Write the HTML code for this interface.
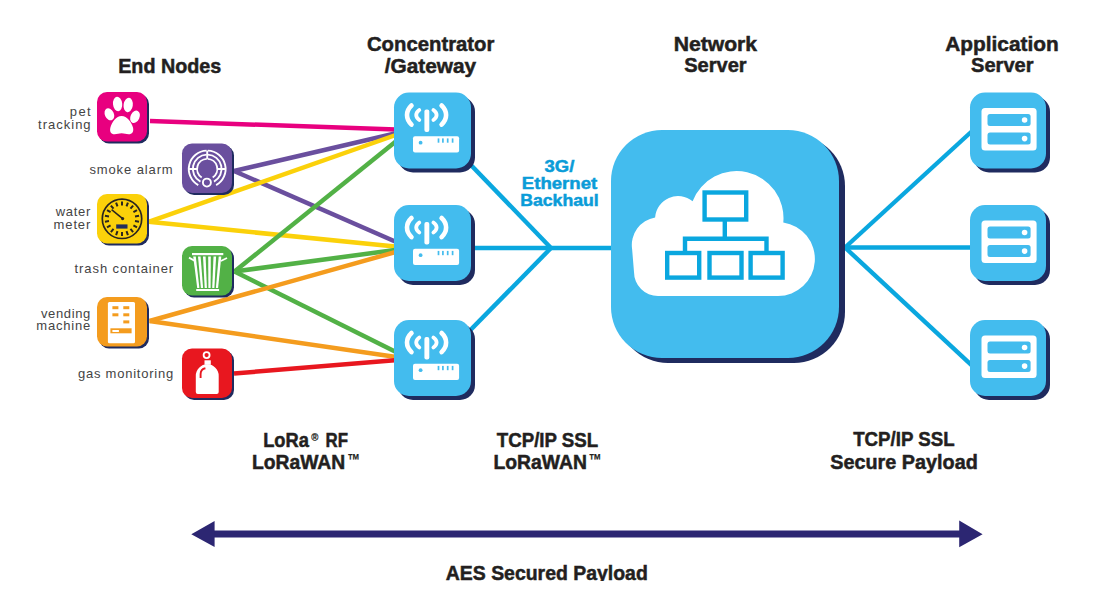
<!DOCTYPE html>
<html><head><meta charset="utf-8"><style>
html,body{margin:0;padding:0;background:#fff;width:1094px;height:599px;overflow:hidden}
svg{display:block}
</style></head><body>
<svg width="1094" height="599" viewBox="0 0 1094 599">
<rect width="1094" height="599" fill="#fff"/>
<line x1="150" y1="121" x2="410" y2="130" stroke="#e8007f" stroke-width="4.5"/>
<line x1="234" y1="171" x2="410" y2="130" stroke="#6a4f9e" stroke-width="4.5"/>
<line x1="234" y1="171" x2="410" y2="248" stroke="#6a4f9e" stroke-width="4.5"/>
<line x1="148.5" y1="221.8" x2="410" y2="130" stroke="#fbd10a" stroke-width="4.5"/>
<line x1="148.5" y1="221.8" x2="410" y2="248" stroke="#fbd10a" stroke-width="4.5"/>
<line x1="234.5" y1="271.5" x2="410" y2="130" stroke="#52b146" stroke-width="4.5"/>
<line x1="234.5" y1="271.5" x2="410" y2="248" stroke="#52b146" stroke-width="4.5"/>
<line x1="234.5" y1="271.5" x2="410" y2="359" stroke="#52b146" stroke-width="4.5"/>
<line x1="149.5" y1="321" x2="410" y2="248" stroke="#f49c1e" stroke-width="4.5"/>
<line x1="149.5" y1="321" x2="410" y2="359" stroke="#f49c1e" stroke-width="4.5"/>
<line x1="234" y1="373.5" x2="410" y2="359" stroke="#e8171f" stroke-width="4.5"/>
<line x1="440" y1="133" x2="551" y2="248" stroke="#0aa7df" stroke-width="4.4"/>
<line x1="440" y1="361" x2="551" y2="248" stroke="#0aa7df" stroke-width="4.4"/>
<line x1="440" y1="248" x2="700" y2="248" stroke="#0aa7df" stroke-width="4.4"/>
<line x1="800" y1="247.5" x2="1000" y2="247.5" stroke="#0aa7df" stroke-width="4.4"/>
<line x1="845" y1="247.5" x2="1000" y2="105.5" stroke="#0aa7df" stroke-width="4.4"/>
<line x1="845" y1="247.5" x2="1000" y2="391.6" stroke="#0aa7df" stroke-width="4.4"/>
<rect x="99" y="94" width="50" height="49.5" rx="10" fill="#1f2b5f"/>
<rect x="97" y="92" width="50" height="49.5" rx="10" fill="#e8007f"/>
<rect x="184" y="145.5" width="50" height="49.5" rx="10" fill="#1f2b5f"/>
<rect x="182" y="143.5" width="50" height="49.5" rx="10" fill="#6a4f9e"/>
<rect x="99" y="196" width="50" height="49.5" rx="10" fill="#1f2b5f"/>
<rect x="97" y="194" width="50" height="49.5" rx="10" fill="#fbd10a"/>
<rect x="184" y="248" width="50" height="49.5" rx="10" fill="#1f2b5f"/>
<rect x="182" y="246" width="50" height="49.5" rx="10" fill="#52b146"/>
<rect x="99" y="299" width="50" height="49.5" rx="10" fill="#1f2b5f"/>
<rect x="97" y="297" width="50" height="49.5" rx="10" fill="#f49c1e"/>
<rect x="184" y="350.5" width="50" height="49.5" rx="10" fill="#1f2b5f"/>
<rect x="182" y="348.5" width="50" height="49.5" rx="10" fill="#e8171f"/>
<g fill="#fff">
<ellipse cx="117.6" cy="104" rx="4.6" ry="7.2" transform="rotate(-6 117.6 104)"/>
<ellipse cx="128.2" cy="105" rx="4.6" ry="7.2" transform="rotate(8 128.2 105)"/>
<ellipse cx="109.4" cy="114.3" rx="4.5" ry="6.3" transform="rotate(-25 109.4 114.3)"/>
<ellipse cx="135" cy="116.8" rx="4.5" ry="6.5" transform="rotate(25 135 116.8)"/>
<path d="M121.6 116 C127 116 131.5 122 133 127.5 C134 131.5 132.2 134.3 128.6 134.3 C126 134.3 124.4 133.3 121.6 133.3 C118.8 133.3 117.2 134.3 114.6 134.3 C111 134.3 109.4 131.5 110.4 127.5 C111.9 122 116.2 116 121.6 116 Z"/>
</g>
<g fill="none" stroke="#fff" stroke-width="1.9">
<path d="M198.28 185.09 A18.4 18.4 0 0 1 206.56 150.61"/>
<path d="M207.84 150.61 A18.4 18.4 0 0 1 216.12 185.09"/>
<path d="M200.44 181.71 A14.4 14.4 0 0 1 206.70 154.61"/>
<path d="M207.70 154.61 A14.4 14.4 0 0 1 213.96 181.71"/>
<path d="M201.70 177.47 A10.1 10.1 0 0 1 206.85 158.91"/>
<path d="M207.55 158.91 A10.1 10.1 0 0 1 212.70 177.47"/>
<path d="M207.2 150.6 V158.9"/>
<path d="M188.79999999999998 169 H197.1 M217.29999999999998 169 H225.6"/>
<circle cx="206.9" cy="182.6" r="4"/>
</g>
<circle cx="122" cy="218.8" r="19.7" fill="none" stroke="#29251f" stroke-width="1.7"/>
<path d="M122.00 205.60 L122.00 201.50 M126.51 206.40 L127.92 202.54 M130.48 208.69 L133.12 205.55 M133.43 212.20 L136.98 210.15 M135.00 216.51 L139.04 215.80 M135.00 221.09 L139.04 221.80 M133.43 225.40 L136.98 227.45 M130.48 228.91 L133.12 232.05 M126.51 231.20 L127.92 235.06 M122.00 232.00 L122.00 236.10 M117.49 231.20 L116.08 235.06 M113.52 228.91 L110.88 232.05 M110.57 225.40 L107.02 227.45 M109.00 221.09 L104.96 221.80 M109.00 216.51 L104.96 215.80 M110.57 212.20 L107.02 210.15 M113.52 208.69 L110.88 205.55 M117.49 206.40 L116.08 202.54" stroke="#29251f" stroke-width="2"/>
<path d="M111.6 209.6 L122.6 218.6" stroke="#29251f" stroke-width="1.5"/><circle cx="122.6" cy="218.6" r="1.6" fill="#29251f"/>
<rect x="116.2" y="224.4" width="11.3" height="4.2" fill="#232f5c"/>
<g fill="#fff" stroke="none">
<rect x="192" y="253" width="31.3" height="2.2"/>
<rect x="196.2" y="289" width="22.9" height="2"/>
<path d="M193.2 256.4 L195.8 256.4 L199.4 288 L197.20000000000002 288 Z"/>
<path d="M198.0 256.4 L200.60000000000002 256.4 L203.1 288 L200.9 288 Z"/>
<path d="M203.0 256.4 L205.60000000000002 256.4 L206.9 288 L204.70000000000002 288 Z"/>
<path d="M208.2 256.4 L210.8 256.4 L210.6 288 L208.4 288 Z"/>
<path d="M213.5 256.4 L216.10000000000002 256.4 L214.4 288 L212.20000000000002 288 Z"/>
<path d="M218.7 256.4 L221.3 256.4 L218.1 288 L215.9 288 Z"/>
</g>
<path d="M189 257.6 L194.5 260.8 M227 258 L220.8 261" stroke="#fff" stroke-width="1.8"/>
<rect x="107.9" y="302" width="27.1" height="41.3" rx="1.5" fill="#fff"/>
<rect x="112.4" y="306.2" width="6" height="3" fill="#f49c1e"/>
<rect x="123.3" y="306.2" width="6" height="3" fill="#f49c1e"/>
<rect x="112.4" y="313.3" width="6" height="3" fill="#f49c1e"/>
<rect x="123.3" y="313.3" width="6" height="3" fill="#f49c1e"/>
<rect x="123.3" y="320.4" width="6" height="3" fill="#f49c1e"/>
<rect x="110.4" y="328.3" width="21.2" height="5" fill="#f49c1e"/>
<rect x="112.4" y="330" width="6.5" height="2" fill="#fff"/>
<path d="M195.8 393.9 V375.8 A11.45 11.45 0 0 1 218.7 375.8 V391.9 Q218.7 393.9 216.7 393.9 H197.8 Q195.8 393.9 195.8 391.9 Z" fill="#fff"/>
<path d="M200.6 378 V374 A6 6 0 0 1 205.4 368.2" fill="none" stroke="#e8171f" stroke-width="1.9"/>
<rect x="204.5" y="360.3" width="6.3" height="4.5" fill="#fff"/>
<circle cx="206.6" cy="355.1" r="3" fill="none" stroke="#fff" stroke-width="1.8"/>
<rect x="398" y="96.5" width="77" height="76" rx="15" fill="#1f2b5f"/>
<rect x="394" y="92.5" width="77" height="76" rx="15" fill="#43bcee"/>
<g transform="translate(0 0.0)">
<g fill="none" stroke="#fff" stroke-linecap="round">
<path d="M411.5 105.5 C405.50 111.23 405.50 118.87 411.5 124.6 M441.6 105.5 C447.60 111.23 447.60 118.87 441.6 124.6" stroke-width="4.6"/>
<path d="M419.3 110 C415.17 113.00 415.17 117.00 419.3 120 M433.4 110 C437.67 113.00 437.67 117.00 433.4 120" stroke-width="3.8"/>
</g>
<rect x="424.4" y="109.6" width="4.9" height="22.3" rx="2" fill="#fff"/>
<rect x="413" y="136.2" width="46.1" height="16.3" rx="2" fill="#fff"/>
<circle cx="420.6" cy="142.7" r="1.9" fill="#43bcee"/>
<rect x="437.65" y="138.4" width="1.7" height="4.3" fill="#43bcee"/>
<rect x="442.04999999999995" y="138.4" width="1.7" height="4.3" fill="#43bcee"/>
<rect x="446.84999999999997" y="138.4" width="1.7" height="4.3" fill="#43bcee"/>
<rect x="451.75" y="138.4" width="1.7" height="4.3" fill="#43bcee"/>
</g>
<rect x="398" y="209" width="77" height="76" rx="15" fill="#1f2b5f"/>
<rect x="394" y="205" width="77" height="76" rx="15" fill="#43bcee"/>
<g transform="translate(0 112.5)">
<g fill="none" stroke="#fff" stroke-linecap="round">
<path d="M411.5 105.5 C405.50 111.23 405.50 118.87 411.5 124.6 M441.6 105.5 C447.60 111.23 447.60 118.87 441.6 124.6" stroke-width="4.6"/>
<path d="M419.3 110 C415.17 113.00 415.17 117.00 419.3 120 M433.4 110 C437.67 113.00 437.67 117.00 433.4 120" stroke-width="3.8"/>
</g>
<rect x="424.4" y="109.6" width="4.9" height="22.3" rx="2" fill="#fff"/>
<rect x="413" y="136.2" width="46.1" height="16.3" rx="2" fill="#fff"/>
<circle cx="420.6" cy="142.7" r="1.9" fill="#43bcee"/>
<rect x="437.65" y="138.4" width="1.7" height="4.3" fill="#43bcee"/>
<rect x="442.04999999999995" y="138.4" width="1.7" height="4.3" fill="#43bcee"/>
<rect x="446.84999999999997" y="138.4" width="1.7" height="4.3" fill="#43bcee"/>
<rect x="451.75" y="138.4" width="1.7" height="4.3" fill="#43bcee"/>
</g>
<rect x="398" y="324" width="77" height="76" rx="15" fill="#1f2b5f"/>
<rect x="394" y="320" width="77" height="76" rx="15" fill="#43bcee"/>
<g transform="translate(0 227.5)">
<g fill="none" stroke="#fff" stroke-linecap="round">
<path d="M411.5 105.5 C405.50 111.23 405.50 118.87 411.5 124.6 M441.6 105.5 C447.60 111.23 447.60 118.87 441.6 124.6" stroke-width="4.6"/>
<path d="M419.3 110 C415.17 113.00 415.17 117.00 419.3 120 M433.4 110 C437.67 113.00 437.67 117.00 433.4 120" stroke-width="3.8"/>
</g>
<rect x="424.4" y="109.6" width="4.9" height="22.3" rx="2" fill="#fff"/>
<rect x="413" y="136.2" width="46.1" height="16.3" rx="2" fill="#fff"/>
<circle cx="420.6" cy="142.7" r="1.9" fill="#43bcee"/>
<rect x="437.65" y="138.4" width="1.7" height="4.3" fill="#43bcee"/>
<rect x="442.04999999999995" y="138.4" width="1.7" height="4.3" fill="#43bcee"/>
<rect x="446.84999999999997" y="138.4" width="1.7" height="4.3" fill="#43bcee"/>
<rect x="451.75" y="138.4" width="1.7" height="4.3" fill="#43bcee"/>
</g>
<rect x="974" y="96.5" width="76" height="76" rx="15" fill="#1f2b5f"/>
<rect x="970" y="92.5" width="76" height="76" rx="15" fill="#43bcee"/>
<g transform="translate(0 0.0)">
<rect x="981.5" y="108" width="55.1" height="42.6" rx="3.5" fill="#fff"/>
<rect x="987.5" y="114" width="43.1" height="12" rx="2.5" fill="#43bcee"/>
<rect x="987.5" y="132.5" width="43.1" height="12.1" rx="2.5" fill="#43bcee"/>
<circle cx="1024.6" cy="120" r="2.8" fill="#fff"/><circle cx="1024.6" cy="138.6" r="2.8" fill="#fff"/>
</g>
<rect x="974" y="209" width="76" height="76" rx="15" fill="#1f2b5f"/>
<rect x="970" y="205" width="76" height="76" rx="15" fill="#43bcee"/>
<g transform="translate(0 112.5)">
<rect x="981.5" y="108" width="55.1" height="42.6" rx="3.5" fill="#fff"/>
<rect x="987.5" y="114" width="43.1" height="12" rx="2.5" fill="#43bcee"/>
<rect x="987.5" y="132.5" width="43.1" height="12.1" rx="2.5" fill="#43bcee"/>
<circle cx="1024.6" cy="120" r="2.8" fill="#fff"/><circle cx="1024.6" cy="138.6" r="2.8" fill="#fff"/>
</g>
<rect x="974" y="324" width="76" height="76" rx="15" fill="#1f2b5f"/>
<rect x="970" y="320" width="76" height="76" rx="15" fill="#43bcee"/>
<g transform="translate(0 227.5)">
<rect x="981.5" y="108" width="55.1" height="42.6" rx="3.5" fill="#fff"/>
<rect x="987.5" y="114" width="43.1" height="12" rx="2.5" fill="#43bcee"/>
<rect x="987.5" y="132.5" width="43.1" height="12.1" rx="2.5" fill="#43bcee"/>
<circle cx="1024.6" cy="120" r="2.8" fill="#fff"/><circle cx="1024.6" cy="138.6" r="2.8" fill="#fff"/>
</g>
<rect x="617" y="135" width="228" height="228" rx="51" fill="#1f2b5f"/>
<rect x="611" y="130" width="228" height="228" rx="51" fill="#43bcee"/>
<path fill="#fff" d="M658 296 A24 24 0 0 1 634 272 L632.1 249 A28 28 0 0 1 655.1 217.4 A23 23 0 0 1 692.6 201.25 A47 47 0 0 1 783.3 222.4 A37 37 0 0 1 778 296 Z"/>
<g fill="none" stroke="#0aa7df" stroke-width="4.4">
<rect x="704.6" y="192.5" width="41.6" height="27"/>
<path d="M724.8 221 V238.7 M685 253 V238.7 H766.5 V253"/>
<rect x="667.2" y="253" width="32" height="24.6"/>
<rect x="709.5" y="253" width="32" height="24.6"/>
<rect x="750.6" y="253" width="32" height="24.6"/>
</g>
<rect x="212" y="530.5" width="750" height="7" fill="#2c2672"/>
<path d="M191.3 534.2 L214.6 520.9 L214.6 547.1 Z M982.6 534.2 L959.2 520.4 L959.2 547.3 Z" fill="#2c2672"/>
<text x="169.7" y="73" font-family="Liberation Sans" font-size="20.5" font-weight="bold" fill="#231f20" stroke="#231f20" stroke-width="0.5" text-anchor="middle" textLength="103" lengthAdjust="spacingAndGlyphs">End Nodes</text>
<text x="430.7" y="50.7" font-family="Liberation Sans" font-size="20.5" font-weight="bold" fill="#231f20" stroke="#231f20" stroke-width="0.5" text-anchor="middle" textLength="127.5" lengthAdjust="spacingAndGlyphs">Concentrator</text>
<text x="430.4" y="72.5" font-family="Liberation Sans" font-size="20.5" font-weight="bold" fill="#231f20" stroke="#231f20" stroke-width="0.5" text-anchor="middle" textLength="91.5" lengthAdjust="spacingAndGlyphs">/Gateway</text>
<text x="715.4" y="50.8" font-family="Liberation Sans" font-size="20.5" font-weight="bold" fill="#231f20" stroke="#231f20" stroke-width="0.5" text-anchor="middle" textLength="83.5" lengthAdjust="spacingAndGlyphs">Network</text>
<text x="715.4" y="72.2" font-family="Liberation Sans" font-size="20.5" font-weight="bold" fill="#231f20" stroke="#231f20" stroke-width="0.5" text-anchor="middle" textLength="62.5" lengthAdjust="spacingAndGlyphs">Server</text>
<text x="1002" y="50.5" font-family="Liberation Sans" font-size="20.5" font-weight="bold" fill="#231f20" stroke="#231f20" stroke-width="0.5" text-anchor="middle" textLength="113.5" lengthAdjust="spacingAndGlyphs">Application</text>
<text x="1002.3" y="72.2" font-family="Liberation Sans" font-size="20.5" font-weight="bold" fill="#231f20" stroke="#231f20" stroke-width="0.5" text-anchor="middle" textLength="62.5" lengthAdjust="spacingAndGlyphs">Server</text>
<text x="559.5" y="171.7" font-family="Liberation Sans" font-size="17" font-weight="bold" fill="#0a9cd8" stroke="#0a9cd8" stroke-width="0.5" text-anchor="middle" textLength="29.8" lengthAdjust="spacingAndGlyphs">3G/</text>
<text x="559.5" y="189" font-family="Liberation Sans" font-size="17" font-weight="bold" fill="#0a9cd8" stroke="#0a9cd8" stroke-width="0.5" text-anchor="middle" textLength="75.4" lengthAdjust="spacingAndGlyphs">Ethernet</text>
<text x="559.5" y="205.9" font-family="Liberation Sans" font-size="17" font-weight="bold" fill="#0a9cd8" stroke="#0a9cd8" stroke-width="0.5" text-anchor="middle" textLength="78.6" lengthAdjust="spacingAndGlyphs">Backhaul</text>
<text x="263.2" y="446.7" font-family="Liberation Sans" font-size="20" font-weight="bold" fill="#231f20" stroke="#231f20" stroke-width="0.5" text-anchor="start" textLength="45.7" lengthAdjust="spacingAndGlyphs">LoRa</text>
<text x="311.3" y="441" font-family="Liberation Sans" font-size="10" font-weight="bold" fill="#231f20" stroke="#231f20" stroke-width="0.2" text-anchor="start" textLength="7.1" lengthAdjust="spacingAndGlyphs">®</text>
<text x="325.6" y="446.7" font-family="Liberation Sans" font-size="20" font-weight="bold" fill="#231f20" stroke="#231f20" stroke-width="0.5" text-anchor="start" textLength="22.5" lengthAdjust="spacingAndGlyphs">RF</text>
<text x="251.9" y="468.7" font-family="Liberation Sans" font-size="20" font-weight="bold" fill="#231f20" stroke="#231f20" stroke-width="0.5" text-anchor="start" textLength="93.3" lengthAdjust="spacingAndGlyphs">LoRaWAN</text>
<text x="347.5" y="465.5" font-family="Liberation Sans" font-size="17" font-weight="bold" fill="#231f20" stroke="#231f20" stroke-width="0.2" text-anchor="start" textLength="12.5" lengthAdjust="spacingAndGlyphs">™</text>
<text x="547.5" y="446.9" font-family="Liberation Sans" font-size="20.5" font-weight="bold" fill="#231f20" stroke="#231f20" stroke-width="0.5" text-anchor="middle" textLength="101.5" lengthAdjust="spacingAndGlyphs">TCP/IP SSL</text>
<text x="493.4" y="469.3" font-family="Liberation Sans" font-size="20" font-weight="bold" fill="#231f20" stroke="#231f20" stroke-width="0.5" text-anchor="start" textLength="93.5" lengthAdjust="spacingAndGlyphs">LoRaWAN</text>
<text x="588.8" y="466" font-family="Liberation Sans" font-size="17" font-weight="bold" fill="#231f20" stroke="#231f20" stroke-width="0.2" text-anchor="start" textLength="12.8" lengthAdjust="spacingAndGlyphs">™</text>
<text x="903.9" y="446.4" font-family="Liberation Sans" font-size="20.5" font-weight="bold" fill="#231f20" stroke="#231f20" stroke-width="0.5" text-anchor="middle" textLength="101.5" lengthAdjust="spacingAndGlyphs">TCP/IP SSL</text>
<text x="904" y="468.6" font-family="Liberation Sans" font-size="20.5" font-weight="bold" fill="#231f20" stroke="#231f20" stroke-width="0.5" text-anchor="middle" textLength="147.5" lengthAdjust="spacingAndGlyphs">Secure Payload</text>
<text x="546.8" y="579.6" font-family="Liberation Sans" font-size="20.5" font-weight="bold" fill="#231f20" stroke="#231f20" stroke-width="0.5" text-anchor="middle" textLength="202" lengthAdjust="spacingAndGlyphs">AES Secured Payload</text>
<rect x="0" y="581" width="1094" height="18" fill="#fff"/>
<text x="69.8" y="115.8" font-family="Liberation Sans" font-size="13" fill="#444444" textLength="20.8" lengthAdjust="spacing">pet</text>
<text x="38.099999999999994" y="128.6" font-family="Liberation Sans" font-size="13" fill="#444444" textLength="52.5" lengthAdjust="spacing">tracking</text>
<text x="89.4" y="173.7" font-family="Liberation Sans" font-size="13" fill="#444444" textLength="83.3" lengthAdjust="spacing">smoke alarm</text>
<text x="55.699999999999996" y="216" font-family="Liberation Sans" font-size="13" fill="#444444" textLength="34.6" lengthAdjust="spacing">water</text>
<text x="53.599999999999994" y="228.8" font-family="Liberation Sans" font-size="13" fill="#444444" textLength="36.7" lengthAdjust="spacing">meter</text>
<text x="74.60000000000001" y="272.5" font-family="Liberation Sans" font-size="13" fill="#444444" textLength="98.6" lengthAdjust="spacing">trash container</text>
<text x="41.0" y="317.8" font-family="Liberation Sans" font-size="13" fill="#444444" textLength="49.3" lengthAdjust="spacing">vending</text>
<text x="36.3" y="330.4" font-family="Liberation Sans" font-size="13" fill="#444444" textLength="54" lengthAdjust="spacing">machine</text>
<text x="77.9" y="377.5" font-family="Liberation Sans" font-size="13" fill="#444444" textLength="95.3" lengthAdjust="spacing">gas monitoring</text>
</svg>
</body></html>
